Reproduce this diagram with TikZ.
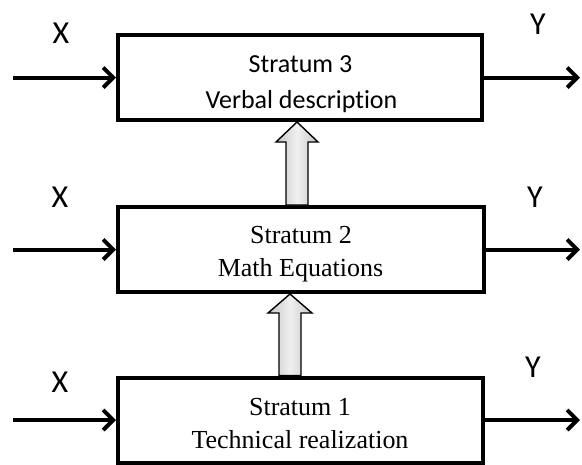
\documentclass[tikz,border=0pt]{standalone}
\usepackage{fontspec}
\setmainfont{Liberation Serif}
\newfontfamily\calibrifont[Ligatures=NoCommon]{Carlito}
\usetikzlibrary{arrows.meta,calc}
\tikzset{
  stratbox/.style={draw, line width=4pt, minimum width=364pt, minimum height=85pt, inner sep=0pt},
  sanstext/.style={font=\calibrifont\fontsize{26}{36}\selectfont, inner sep=0pt, anchor=base},
  seriftext/.style={font=\fontsize{26}{33}\selectfont, inner sep=0pt, anchor=base},
  iolabel/.style={font=\calibrifont\fontsize{32}{32}\selectfont, inner sep=0pt},
  flow/.style={line width=4pt, -{Straight Barb[length=10pt,width=20pt]}},
  blockarr/.style={draw=black, line width=1.4pt, line join=miter, left color=gray!45, right color=gray!45, middle color=gray!12}
}
\begin{document}
\begin{tikzpicture}[x=1pt,y=-1pt]
\useasboundingbox (0,0) rectangle (582,464);
% boxes
\node[stratbox] (b3) at (300,77.5) {};
\node[stratbox, minimum width=366pt] (b2) at (301,249.5) {};
\node[stratbox, minimum width=365pt] (b1) at (300.5,420) {};
% box texts
\node[sanstext] (t3a) at (300.5,72) {Stratum 3};
\node[sanstext] (t3b) at (301.5,108) {Verbal description};
\node[seriftext] (t2a) at (301,243) {Stratum 2};
\node[seriftext] (t2b) at (300.5,276) {Math Equations};
\node[seriftext] (t1a) at (300,415) {Stratum 1};
\node[seriftext] (t1b) at (300,448) {Technical realization};
% labels
\node[iolabel] (x3) at (61,33) {X};
\node[iolabel] (y3) at (538,24) {Y};
\node[iolabel] (x2) at (60,197) {X};
\node[iolabel] (y2) at (535,197) {Y};
\node[iolabel] (x1) at (60,382) {X};
\node[iolabel] (y1) at (533,367) {Y};
% free ends
\coordinate (in3) at (13,77.5);
\coordinate (out3) at (580,77.5);
\coordinate (in2) at (13,249.5);
\coordinate (out2) at (580,249.5);
\coordinate (in1) at (13,420);
\coordinate (out1) at (580,420);
\draw[flow] (in3) -- (b3.west);
\draw[flow] (b3.east) -- (out3);
\draw[flow] (in2) -- (b2.west);
\draw[flow] (b2.east) -- (out2);
\draw[flow] (in1) -- (b1.west);
\draw[flow] (b1.east) -- (out1);
% block arrows
\coordinate (ca) at (297,0);
\coordinate (cb) at (290,0);
\draw[blockarr] ($(b2.north -| ca)+(-11,0)$) -- (286,142) -- (276,142) -- (b3.south -| ca) -- (318,142) -- (308,142) -- ($(b2.north -| ca)+(11,0)$) -- cycle;
\draw[blockarr] ($(b1.north -| cb)+(-11,0)$) -- (279,313) -- (268,313) -- (b2.south -| cb) -- (312,313) -- (301,313) -- ($(b1.north -| cb)+(11,0)$) -- cycle;
\end{tikzpicture}
\end{document}
